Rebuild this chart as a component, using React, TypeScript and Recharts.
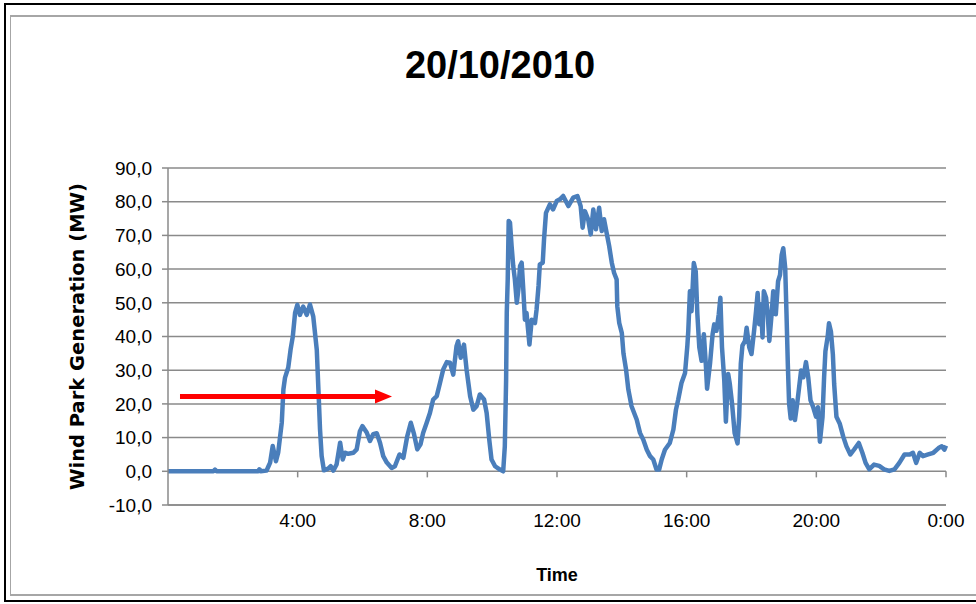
import { LineChart, Line, XAxis, YAxis, CartesianGrid, ReferenceLine } from 'recharts';

// time of day in hours
const hours = [
  0, 0.5, 1.0, 1.4, 1.45, 1.5, 2.0, 2.5, 2.78, 2.82, 2.86, 3.04, 3.1, 3.15, 3.23, 3.33, 3.4,
  3.51, 3.56, 3.61, 3.71, 3.78, 3.85, 3.92, 3.99, 4.07, 4.17, 4.28, 4.38, 4.48, 4.59, 4.64,
  4.69, 4.74, 4.81, 4.94, 5.02, 5.1, 5.2, 5.31, 5.39, 5.46, 5.56, 5.72, 5.82, 5.92, 6.0,
  6.13, 6.23, 6.33, 6.44, 6.54, 6.64, 6.75, 6.9, 7.0, 7.14, 7.26, 7.38, 7.49, 7.59, 7.69,
  7.79, 7.87, 7.98, 8.08, 8.18, 8.29, 8.39, 8.49, 8.6, 8.7, 8.8, 8.9, 8.95, 9.03, 9.13,
  9.21, 9.32, 9.42, 9.52, 9.62, 9.75, 9.83, 9.91, 9.98, 10.09, 10.24, 10.34, 10.39, 10.43,
  10.45, 10.48, 10.51, 10.55, 10.6, 10.65, 10.7, 10.76, 10.81, 10.86, 10.91, 10.96, 11.01,
  11.06, 11.15, 11.22, 11.32, 11.37, 11.43, 11.47, 11.56, 11.6, 11.66, 11.78, 11.88, 11.99,
  12.09, 12.19, 12.35, 12.5, 12.63, 12.73, 12.79, 12.86, 12.96, 13.04, 13.12, 13.2, 13.3,
  13.38, 13.45, 13.53, 13.61, 13.69, 13.76, 13.84, 13.86, 13.92, 14.0, 14.05, 14.13, 14.2,
  14.3, 14.46, 14.56, 14.66, 14.77, 14.87, 14.97, 15.07, 15.15, 15.23, 15.33, 15.48, 15.59,
  15.67, 15.74, 15.84, 15.95, 16.02, 16.05, 16.1, 16.15, 16.22, 16.28, 16.33, 16.39, 16.46,
  16.53, 16.59, 16.63, 16.72, 16.8, 16.85, 16.92, 16.99, 17.04, 17.09, 17.16, 17.21, 17.28,
  17.33, 17.4, 17.48, 17.57, 17.62, 17.67, 17.72, 17.8, 17.85, 17.93, 18.0, 18.08, 18.14,
  18.19, 18.24, 18.29, 18.34, 18.38, 18.45, 18.5, 18.55, 18.62, 18.67, 18.75, 18.82, 18.88,
  18.93, 18.98, 19.04, 19.08, 19.12, 19.16, 19.21, 19.27, 19.34, 19.41, 19.47, 19.53, 19.6,
  19.68, 19.75, 19.82, 19.9, 19.99, 20.05, 20.11, 20.19, 20.24, 20.28, 20.35, 20.39, 20.45,
  20.51, 20.55, 20.62, 20.72, 20.83, 20.93, 21.05, 21.16, 21.31, 21.42, 21.52, 21.63, 21.78,
  21.94, 22.09, 22.25, 22.41, 22.56, 22.72, 22.88, 22.98, 23.08, 23.19, 23.29, 23.45, 23.61,
  23.77, 23.87, 23.95, 24.0,
];

// generation in MW at each time above
const generation = [
  0, 0, 0, 0, 0.5, 0, 0, 0, 0, 0.6, 0, 0.2, 1.5, 2.6, 7.5, 3.0, 5.6,
  14.5, 24.3, 27.8, 30.8, 36, 40, 47, 49.4, 46.4, 48.9, 46.4, 49.5, 46, 36, 24.3,
  12.4, 4.5, 0.3, 0.8, 1.5, 0.2, 2, 8.5, 3.5, 5.5, 5.2, 5.5, 6.5, 11.9, 13.4,
  11.5, 9, 11, 11.3, 8.5, 4.5, 2.6, 1, 1.5, 5, 4, 10.4, 14.4, 11, 6.5,
  8.0, 11.4, 14.4, 17.3, 21.3, 22.3, 26.2, 30.2, 32.4, 32.2, 28.7, 37.1, 38.6, 33.7, 37.6,
  30.2, 22.3, 18.3, 19.3, 22.8, 21.3, 17.3, 9.4, 3.5, 1.5, 0.5, 0, 7.4, 27,
  47, 57, 74.3, 73.8, 66.8, 60.9, 57, 50, 54, 60.9, 61.9, 54, 45,
  47, 37.6, 45, 44, 48, 55, 61.4, 61.9, 68.8, 76.7, 79.2, 77.7, 80.2,
  80.7, 81.7, 78.7, 81.2, 81.7, 78.7, 72.3, 77.2, 74.8, 70.3, 77.7, 71.8, 78.2,
  71.3, 74.8, 70.8, 66.8, 61.9, 58.9, 56.9, 49, 44, 41, 35, 30.2, 24.3,
  19.3, 15.3, 11.4, 9.4, 6.4, 4.5, 3.5, 0.5, 0.5, 3.5, 6.4, 8.4, 12.4,
  18.3, 21.3, 26.2, 29.2, 37.1, 41.7, 53.4, 47.5, 61.8, 59.3, 46.6, 36.8, 32.8,
  40.7, 31.9, 24.5, 31.9, 40.7, 43.6, 41.7, 46.6, 51.5, 36.8, 27, 14.7, 28.9,
  26, 20.1, 11.3, 8.3, 16.2, 31.9, 37.3, 38.7, 42.6, 36.8, 34.8, 41.7, 47.5,
  52.9, 43.6, 49.5, 39.7, 53.4, 51.5, 46.6, 38.7, 46.6, 53.4, 46.6, 56.4, 58.3,
  64.2, 66.2, 60.3, 46.6, 31.9, 20.1, 15.7, 21.1, 15.2, 20.1, 25, 29.9, 27.9,
  32.4, 27.9, 21.1, 19.1, 16.2, 19, 8.8, 16, 28, 35.6, 40, 43.9, 41.5,
  34.7, 25.9, 16.2, 14.2, 10.3, 7.4, 5, 6.4, 8.4, 5.5, 2.5, 0.6, 2,
  1.6, 0.6, 0.1, 0.6, 2.5, 5, 5, 5.5, 2.5, 5.5, 4.5, 5, 5.5,
  6.9, 7.4, 6.4, 7.6,
];

const xTicks = [4, 8, 12, 16, 20, 24];
const yTicks = [-10, 0, 10, 20, 30, 40, 50, 60, 70, 80, 90];

const data = hours.map((t, i) => ({ t, mw: generation[i] }));

const GRID = '#8a8a8a';
const LABEL_FONT = '"Liberation Sans", Arial, sans-serif';

const RedArrow = (props: any) => {
  const { x1, y1, x2, y2 } = props;
  return (
    <g>
      <line x1={x1} y1={y1} x2={x2 - 14} y2={y2} stroke="#ff0000" strokeWidth={5} />
      <polygon points={`${x2 - 17},${y2 - 7} ${x2},${y2} ${x2 - 17},${y2 + 7}`} fill="#ff0000" />
    </g>
  );
};

export default function App() {
  return (
    <div style={{ position: 'fixed', left: 0, top: 0, width: 976, height: 604, background: '#fff', overflow: 'hidden' }}>
      <div style={{ position: 'absolute', left: 4, top: 3, width: 1000, height: 595, border: '2px solid #000' }} />
      <div style={{ position: 'absolute', left: 10, top: 15, width: 1000, height: 577, border: '2px solid #a6a6a6', borderLeftWidth: 1 }} />
      <div
        style={{
          position: 'absolute',
          left: 0,
          width: 1000,
          top: 44,
          textAlign: 'center',
          fontFamily: LABEL_FONT,
          fontWeight: 'bold',
          fontSize: 38,
          color: '#000',
        }}
      >
        20/10/2010
      </div>
      <div style={{ position: 'absolute', left: 0, top: 0 }}>
        <LineChart width={976} height={604} data={data} margin={{ top: 168, right: 30, left: 20, bottom: 69 }}>
          <CartesianGrid horizontal vertical={false} stroke={GRID} strokeWidth={1.5} />
          <XAxis
            dataKey="t"
            type="number"
            domain={[0, 24]}
            ticks={xTicks}
            tickFormatter={(v: number) => `${v % 24}:00`}
            axisLine={{ stroke: GRID, strokeWidth: 1.5 }}
            tickLine={false}
            tickSize={6}
            tickMargin={3}
            height={30}
            tick={{ fill: '#000', fontSize: 19, fontFamily: LABEL_FONT }}
            label={{
              value: 'Time',
              position: 'bottom',
              offset: 33,
              style: { fill: '#000', fontSize: 18, fontWeight: 'bold', fontFamily: LABEL_FONT },
            }}
          />
          <YAxis
            type="number"
            domain={[-10, 90]}
            ticks={yTicks}
            interval={0}
            width={148}
            tickFormatter={(v: number) => v.toFixed(1).replace('.', ',')}
            axisLine={{ stroke: GRID, strokeWidth: 1.5 }}
            tickLine={{ stroke: GRID, strokeWidth: 1.5 }}
            tickSize={6}
            tickMargin={10}
            tick={{ fill: '#000', fontSize: 19, fontFamily: LABEL_FONT }}
            label={{
              value: 'Wind Park Generation (MW)',
              angle: -90,
              position: 'insideLeft',
              offset: 57,
              style: {
                textAnchor: 'middle',
                fill: '#000',
                fontSize: 19.5,
                fontWeight: 'bold',
                fontFamily: '"DejaVu Sans", Verdana, sans-serif',
              },
            }}
          />
          {xTicks.map((t) => (
            <ReferenceLine
              key={t}
              segment={[
                { x: t, y: 0 },
                { x: t, y: -1.8 },
              ]}
              stroke={GRID}
              strokeWidth={1.5}
            />
          ))}
          <Line
            type="linear"
            dataKey="mw"
            stroke="#4a7ebb"
            strokeWidth={4.5}
            strokeLinejoin="round"
            dot={false}
            isAnimationActive={false}
          />
          <ReferenceLine
            segment={[
              { x: 0.37, y: 22.2 },
              { x: 6.91, y: 22.2 },
            ]}
            shape={RedArrow}
          />
        </LineChart>
      </div>
    </div>
  );
}
